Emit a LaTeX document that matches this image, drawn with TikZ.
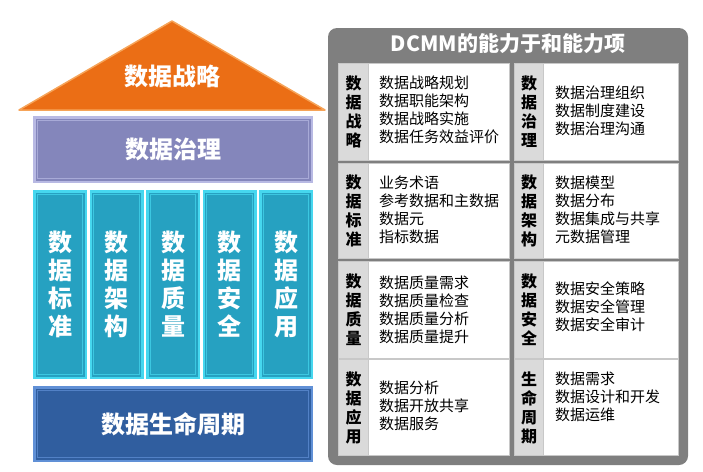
\documentclass[tikz,border=0pt]{standalone}
\usepackage{fontspec}
\setmainfont{Noto Sans CJK SC}
\usetikzlibrary{positioning}
\usepackage{xcolor}

\definecolor{roofFill}{HTML}{EB6E15}
\definecolor{roofEdge}{HTML}{F6A459}
\definecolor{govFill}{HTML}{8486BB}
\definecolor{govEdge}{HTML}{B8B9E3}
\definecolor{pillarFill}{HTML}{26A1C1}
\definecolor{pillarEdge}{HTML}{46D7EF}
\definecolor{lifeFill}{HTML}{305E9F}
\definecolor{lifeEdge}{HTML}{6090D6}
\definecolor{panelGray}{HTML}{7F7F7F}
\definecolor{cellLine}{HTML}{C8C8C8}
\definecolor{tagGray}{HTML}{DADADA}

\begin{document}
\begin{tikzpicture}[
    x=1pt, y=-1pt,
    tier/.style 2 args={rectangle, fill=#1, draw=#2, line width=2.5pt,
                        text=white, inner sep=0pt, align=center,
                        font=\bfseries\fontsize{24}{28}\selectfont,
                        path picture={\draw[#2!70!#1, line width=1.2pt]
                          ([shift={(3pt,3pt)}]path picture bounding box.south west)
                          rectangle
                          ([shift={(-3pt,-3pt)}]path picture bounding box.north east);}},
    pillar/.style={tier={pillarFill}{pillarEdge},
                   minimum width=51.5pt, minimum height=186.5pt},
    panel/.style={rectangle, rounded corners=9pt, fill=panelGray,
                  minimum width=360pt, minimum height=437pt},
    cell/.style={rectangle, fill=white, draw=cellLine, line width=1pt,
                 anchor=north west, inner sep=0pt},
    tag/.style={rectangle, fill=tagGray, draw=cellLine, line width=1pt,
                anchor=north west, inner sep=0pt, align=center,
                font=\bfseries\fontsize{16}{19}\selectfont},
    items/.style={anchor=west, align=left, inner sep=0pt,
                  font=\fontsize{15}{18}\selectfont},
]
\useasboundingbox (0,0) rectangle (703,471);

% left: the house
\coordinate (roofL) at (19,110);
\coordinate (roofT) at (172,21);
\coordinate (roofR) at (325,110);
\draw[fill=roofFill, draw=roofEdge, line width=1.5pt, line join=round]
     (roofL) -- (roofT) -- (roofR) -- cycle;
\node[text=white, font=\bfseries\fontsize{24}{28}\selectfont] (strat) at (172,76) {数据战略};

\node[tier={govFill}{govEdge}, minimum width=277.5pt, minimum height=64.5pt]
     (gov) at (173,149.5) {数据治理};

% the five pillars
\node[pillar, below=7pt of gov.south west, anchor=north west] (std)  {数\\据\\标\\准};
\node[pillar, right=2.5pt of std]  (arch) {数\\据\\架\\构};
\node[pillar, right=2.5pt of arch] (qual) {数\\据\\质\\量};
\node[pillar, right=2.5pt of qual] (sec)  {数\\据\\安\\全};
\node[pillar, right=2.5pt of sec]  (app)  {数\\据\\应\\用};

\node[tier={lifeFill}{lifeEdge}, minimum width=277.5pt, minimum height=73.5pt,
      below=7pt of std.south west, anchor=north west] (life) {数据生命周期};

% right: the panel of capability items
\node[panel] (panel) at (508,246.5) {};
\node[text=white, font=\bfseries\fontsize{21}{24}\selectfont] (title) at (508,44)
     {DCMM的能力于和能力项};

% row 1
\node[cell, minimum width=171pt, minimum height=97pt] (c11) at (338,63) {};
\node[tag, minimum width=30pt, minimum height=97pt] (t11) at (c11.north west) {数\\据\\战\\略};
\node[items, right=10pt of t11.east, yshift=2pt] (i11)
     {数据战略规划\\数据职能架构\\数据战略实施\\数据任务效益评价};

\node[cell, minimum width=164pt, minimum height=97pt] (c12) at (514,63) {};
\node[tag, minimum width=29pt, minimum height=97pt] (t12) at (c12.north west) {数\\据\\治\\理};
\node[items, right=11pt of t12.east, yshift=1pt] (i12)
     {数据治理组织\\数据制度建设\\数据治理沟通};

% row 2
\node[cell, minimum width=171pt, minimum height=95pt] (c21) at (338,163) {};
\node[tag, minimum width=30pt, minimum height=95pt] (t21) at (c21.north west) {数\\据\\标\\准};
\node[items, right=10pt of t21.east, yshift=1pt] (i21)
     {业务术语\\参考数据和主数据\\数据元\\指标数据};

\node[cell, minimum width=164pt, minimum height=95pt] (c22) at (514,163) {};
\node[tag, minimum width=29pt, minimum height=95pt] (t22) at (c22.north west) {数\\据\\架\\构};
\node[items, right=11pt of t22.east, yshift=1pt] (i22)
     {数据模型\\数据分布\\数据集成与共享\\元数据管理};

% row 3
\node[cell, minimum width=171pt, minimum height=97pt] (c31) at (338,261) {};
\node[tag, minimum width=30pt, minimum height=97pt] (t31) at (c31.north west) {数\\据\\质\\量};
\node[items, right=10pt of t31.east] (i31)
     {数据质量需求\\数据质量检查\\数据质量分析\\数据质量提升};

\node[cell, minimum width=164pt, minimum height=97pt] (c32) at (514,261) {};
\node[tag, minimum width=29pt, minimum height=97pt] (t32) at (c32.north west) {数\\据\\安\\全};
\node[items, right=11pt of t32.east, yshift=3pt] (i32)
     {数据安全策略\\数据安全管理\\数据安全审计};

% row 4
\node[cell, minimum width=171pt, minimum height=96pt] (c41) at (338,359) {};
\node[tag, minimum width=30pt, minimum height=96pt] (t41) at (c41.north west) {数\\据\\应\\用};
\node[items, right=10pt of t41.east, yshift=2pt] (i41)
     {数据分析\\数据开放共享\\数据服务};

\node[cell, minimum width=164pt, minimum height=96pt] (c42) at (514,359) {};
\node[tag, minimum width=29pt, minimum height=96pt] (t42) at (c42.north west) {生\\命\\周\\期};
\node[items, right=11pt of t42.east, yshift=11pt] (i42)
     {数据需求\\数据设计和开发\\数据运维};

\end{tikzpicture}
\end{document}
